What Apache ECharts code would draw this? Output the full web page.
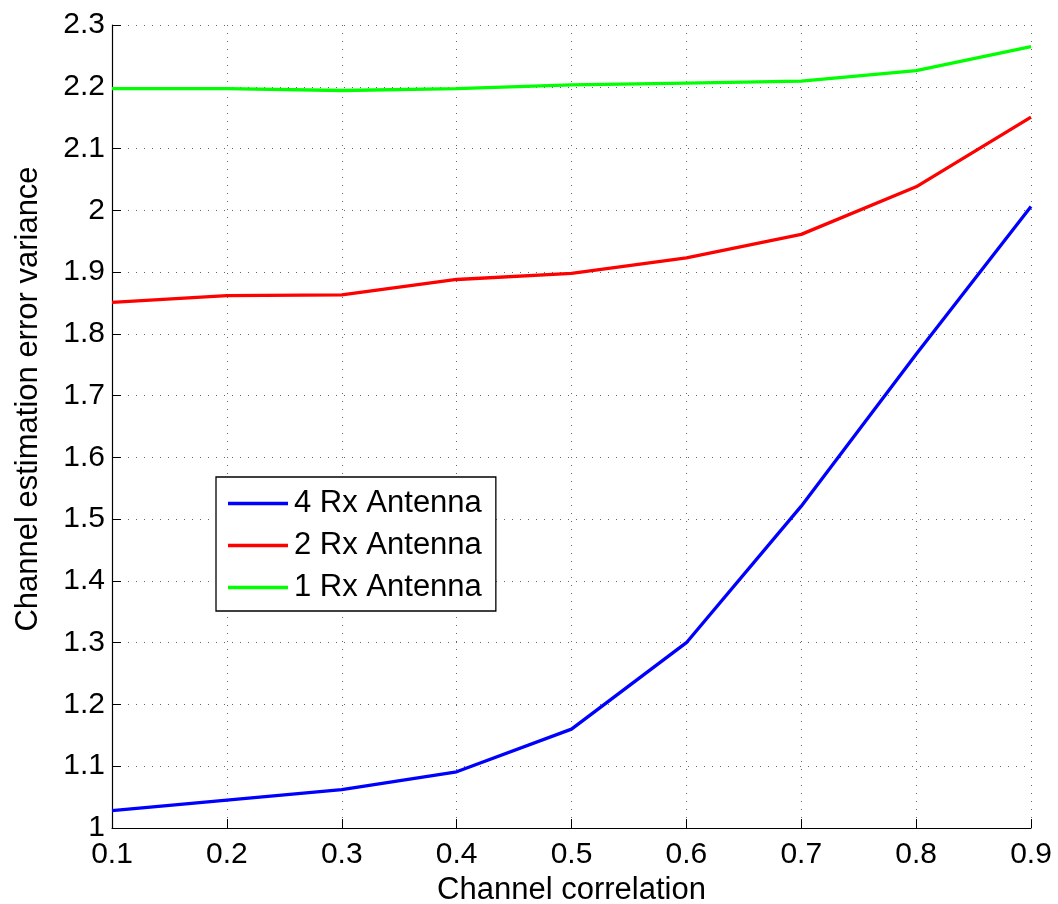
<!DOCTYPE html>
<html>
<head>
<meta charset="utf-8">
<script src="https://cdn.jsdelivr.net/npm/echarts@6/dist/echarts.min.js"></script>
<style>
  html, body { margin: 0; padding: 0; background: #fff; }
  #chart { width: 1058px; height: 904px; }
</style>
</head>
<body>
<div id="chart"></div>
<script>
// Channel correlation values (x axis)
const correlation = [0.1, 0.2, 0.3, 0.4, 0.5, 0.6, 0.7, 0.8, 0.9];

// Channel estimation error variance per receiver antenna setup
const rx4 = [1.028, 1.045, 1.062, 1.091, 1.160, 1.300, 1.521, 1.767, 2.006];
const rx2 = [1.851, 1.862, 1.863, 1.888, 1.898, 1.923, 1.961, 2.038, 2.151];
const rx1 = [2.197, 2.197, 2.194, 2.197, 2.203, 2.206, 2.209, 2.226, 2.265];

const seriesNames = ['4 Rx Antenna', '2 Rx Antenna', '1 Rx Antenna'];
const seriesColors = ['#0000ff', '#ff0000', '#00ff00'];
const seriesData = [rx4, rx2, rx1];

const FONT = '"Liberation Sans", Arial, Helvetica, sans-serif';

const chart = echarts.init(document.getElementById('chart'), null, { renderer: 'canvas' });

// dotted grid lines
const gridLine = { show: true, lineStyle: { color: '#666666', width: 1, type: [1, 7] } };

chart.setOption({
  animation: false,
  backgroundColor: '#ffffff',
  grid: { left: 112, right: 27, top: 25, bottom: 76, containLabel: false, outerBoundsMode: 'none' },
  legend: {
    show: true,
    orient: 'vertical',
    left: 216,
    top: 477,
    padding: [11, 14, 8, 12],
    itemGap: 11,
    itemWidth: 60,
    itemHeight: 3.5,
    icon: 'rect',
    backgroundColor: '#ffffff',
    borderColor: '#000000',
    borderWidth: 1.3,
    borderRadius: 0,
    textStyle: { fontFamily: FONT, fontSize: 31, color: '#000', padding: [0, 0, 0, 1] },
    data: seriesNames
  },
  xAxis: {
    type: 'value',
    min: 0.1,
    max: 0.9,
    interval: 0.1,
    name: 'Channel correlation',
    nameLocation: 'middle',
    nameGap: 38,
    nameTextStyle: { fontFamily: FONT, fontSize: 31, color: '#000' },
    axisLine: { show: true, onZero: false, lineStyle: { color: '#000', width: 1.2 } },
    axisTick: { show: true, inside: true, length: 9, lineStyle: { color: '#000', width: 1 } },
    axisLabel: {
      fontFamily: FONT, fontSize: 30, color: '#000', margin: 12,
      formatter: v => String(+v.toFixed(1))
    },
    splitLine: gridLine
  },
  yAxis: {
    type: 'value',
    min: 1,
    max: 2.3,
    interval: 0.1,
    name: 'Channel estimation error variance',
    nameLocation: 'middle',
    nameGap: 68,
    nameRotate: 90,
    nameTextStyle: { fontFamily: FONT, fontSize: 31, color: '#000', padding: [0, 0, 0, 55] },
    axisLine: { show: true, onZero: false, lineStyle: { color: '#000', width: 1.2 } },
    axisTick: { show: true, inside: true, length: 9, lineStyle: { color: '#000', width: 1 } },
    axisLabel: {
      fontFamily: FONT, fontSize: 30, color: '#000', margin: 7,
      formatter: v => String(+v.toFixed(1))
    },
    splitLine: gridLine
  },
  series: seriesNames.map((name, i) => ({
    name: name,
    type: 'line',
    data: correlation.map((x, j) => [x, seriesData[i][j]]),
    symbol: 'none',
    smooth: false,
    color: seriesColors[i],
    lineStyle: { color: seriesColors[i], width: 3.3 },
    z: 5 - i
  }))
});
</script>
</body>
</html>
